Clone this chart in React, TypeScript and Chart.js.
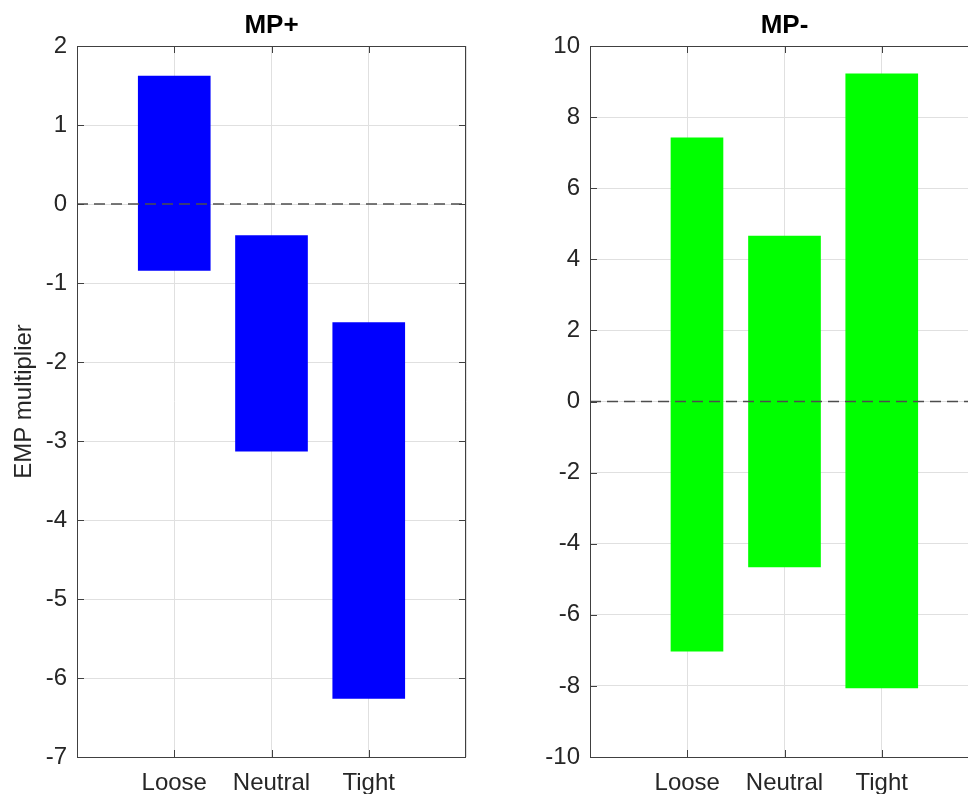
import React, { useEffect, useRef } from "react";
import { Chart, registerables } from "chart.js";

Chart.register(...registerables);

// ---- data ----
const categories = ["Loose", "Neutral", "Tight"];
const mpPlusLow = [-0.84, -3.13, -6.26];
const mpPlusHigh = [1.62, -0.4, -1.5];
const mpMinusLow = [-7.02, -4.65, -8.06];
const mpMinusHigh = [7.42, 4.65, 9.22];
const mpPlusTicks = { min: -7, max: 2, step: 1 };
const mpMinusTicks = { min: -10, max: 10, step: 2 };

const FONT = "'Liberation Sans', Arial, Helvetica, sans-serif";
const TEXT = "#262626";
const AXIS = "#404040";
const GRID = "#e0e0e0";

const framePlugin = {
  id: "frame",
  afterDraw(chart: any) {
    const { ctx, chartArea, scales } = chart;
    const { left, right, top, bottom } = chartArea;
    const xs = scales.x;
    const ys = scales.y;
    ctx.save();
    ctx.strokeStyle = AXIS;
    ctx.lineWidth = 1;
    ctx.beginPath();
    const L = 7;
    xs.ticks.forEach((t: any) => {
      if (t.value <= xs.min || t.value >= xs.max) return;
      const px = Math.round(xs.getPixelForValue(t.value)) + 0.5;
      ctx.moveTo(px, bottom);
      ctx.lineTo(px, bottom - L);
      ctx.moveTo(px, top);
      ctx.lineTo(px, top + L);
    });
    ys.ticks.forEach((t: any) => {
      if (t.value <= ys.min || t.value >= ys.max) return;
      const py = Math.round(ys.getPixelForValue(t.value)) + 0.5;
      ctx.moveTo(left, py);
      ctx.lineTo(left + L, py);
      ctx.moveTo(right, py);
      ctx.lineTo(right - L, py);
    });
    ctx.stroke();
    ctx.strokeRect(Math.round(left) + 0.5, Math.round(top) + 0.5, Math.round(right - left) - 1, Math.round(bottom - top));
    ctx.restore();
  },
};

function buildConfig(
  title: string,
  low: number[],
  high: number[],
  color: string,
  ticks: { min: number; max: number; step: number },
  yTitle: string | null,
  yWidth: number,
  rightPad: number,
  narrowFirst: boolean
): any {
  const main = categories
    .map((_, i) => ({ x: i + 1, y: [low[i], high[i]] }))
    .filter((_, i) => !(narrowFirst && i === 0));
  const datasets: any[] = [
    {
      type: "line",
      data: [
        { x: 0, y: 0 },
        { x: categories.length + 1, y: 0 },
      ],
      borderColor: "#4d4d4d",
      borderWidth: 1.3,
      borderDash: [11, 6],
      pointRadius: 0,
      order: 0,
    },
    {
      type: "bar",
      data: main,
      backgroundColor: color,
      borderWidth: 0,
      grouped: false,
      barThickness: 72,
      order: 1,
    },
  ];
  if (narrowFirst) {
    datasets.push({
      type: "bar",
      data: [{ x: 1 + 0.1, y: [low[0], high[0]] }],
      backgroundColor: color,
      borderWidth: 0,
      grouped: false,
      barThickness: 52,
      order: 1,
    });
  }
  return {
    type: "bar",
    data: { datasets },
    options: {
      animation: false,
      responsive: false,
      devicePixelRatio: 1,
      layout: { padding: { left: 0, right: rightPad, top: 0, bottom: 0 } },
      plugins: {
        legend: { display: false },
        tooltip: { enabled: false },
        title: {
          display: true,
          text: title,
          fullSize: false,
          color: "#000",
          font: { family: FONT, size: 26, weight: "bold", lineHeight: 1 },
          padding: { top: 13, bottom: 7 },
        },
      },
      scales: {
        x: {
          type: "linear",
          min: 0,
          max: categories.length + 1,
          offset: false,
          afterFit: (s: any) => {
            s.height = 37;
          },
          grid: {
            color: GRID,
            drawTicks: true,
            tickLength: 12,
            tickColor: "rgba(0,0,0,0)",
            lineWidth: 1,
            offset: false,
          },
          border: { display: false },
          ticks: {
            stepSize: 1,
            autoSkip: false,
            maxRotation: 0,
            minRotation: 0,
            padding: 0,
            color: TEXT,
            font: { family: FONT, size: 24 },
            callback: (v: number) => categories[v - 1] ?? "",
          },
        },
        y: {
          type: "linear",
          min: ticks.min,
          max: ticks.max,
          afterFit: (s: any) => {
            s.width = yWidth;
          },
          grid: { color: GRID, drawTicks: false, lineWidth: 1 },
          border: { display: false },
          title: yTitle
            ? {
                display: true,
                text: yTitle,
                color: TEXT,
                font: { family: FONT, size: 24 },
                padding: { top: 10, bottom: 0 },
              }
            : { display: false },
          ticks: {
            stepSize: ticks.step,
            padding: 10,
            color: TEXT,
            font: { family: FONT, size: 24 },
          },
        },
      },
    },
    plugins: [framePlugin],
  };
}

function Panel(props: { config: any; left: number; width: number }) {
  const ref = useRef<HTMLCanvasElement | null>(null);
  useEffect(() => {
    if (!ref.current) return;
    const chart = new Chart(ref.current, props.config);
    return () => chart.destroy();
  }, []);
  return (
    <canvas
      ref={ref}
      width={props.width}
      height={794}
      style={{ position: "absolute", left: props.left, top: 0, width: props.width, height: 794, display: "block" }}
    />
  );
}

export default function App() {
  const leftCfg = buildConfig("MP+", mpPlusLow, mpPlusHigh, "#0000ff", mpPlusTicks, "EMP multiplier", 77, 18, false);
  const rightCfg = buildConfig("MP-", mpMinusLow, mpMinusHigh, "#00ff00", mpMinusTicks, null, 106, 5, true);
  return (
    <div
      style={{
        position: "absolute",
        left: 0,
        top: 0,
        width: 968,
        height: 794,
        overflow: "hidden",
        background: "#fff",
      }}
    >
      <Panel config={leftCfg} left={0} width={484} />
      <Panel config={rightCfg} left={484} width={500} />
    </div>
  );
}
